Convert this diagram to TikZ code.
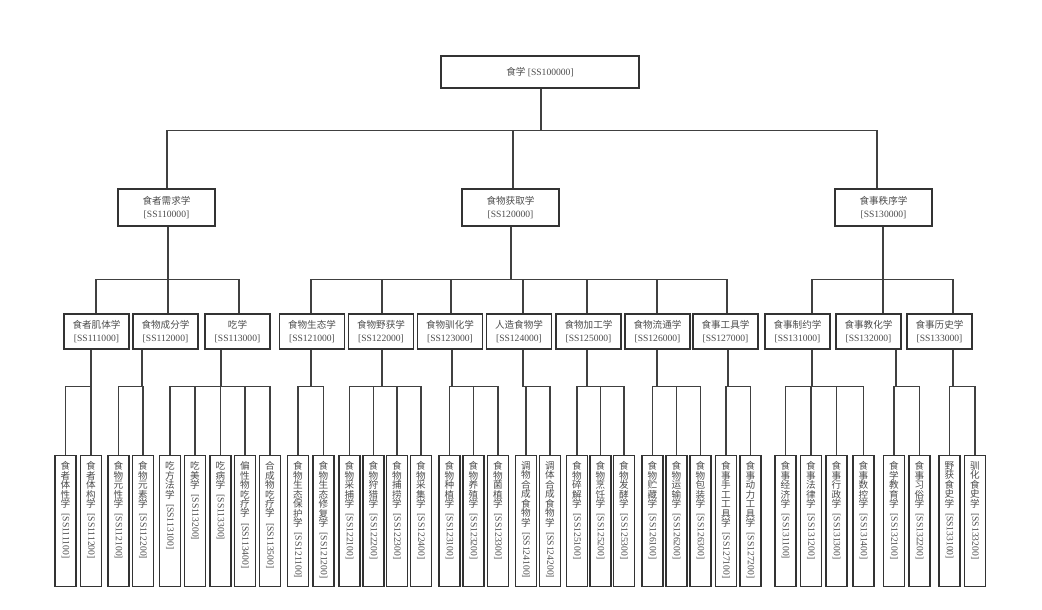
\documentclass[tikz,border=0pt]{standalone}
\usepackage{fontspec}
\setmainfont{Liberation Serif}
\newfontfamily\cjk{Noto Sans CJK SC}
\usetikzlibrary{calc}
\makeatletter
\newcommand\vlab[2]{\vbox to 89pt{\baselineskip=7.1pt\lineskiplimit=-10pt
  \expandafter\vlab@chars\expandafter{#1}%
  \nointerlineskip\vskip4pt
  \hbox to 7.2pt{\hss\rotatebox{-90}{[#2]}\hss}\vfil}}
\newcommand\vlab@chars[1]{\@tfor\vch:=#1\do{\hbox to 7.2pt{\hss\cjk\vch\hss}}}
\makeatother
\newcommand\hlab[2]{{\cjk #1}\\{}[#2]}
\begin{document}
\begin{tikzpicture}[x=0.75pt,y=-0.75pt,
  box/.style={draw=black!80,line width=0.8pt,text=black!70,align=center,inner sep=0pt,font=\fontsize{7.2}{10}\selectfont},
  rootbox/.style={box,minimum width=148.5pt,minimum height=24pt},
  fieldbox/.style={box,minimum width=72.75pt,minimum height=27.75pt},
  branchbox/.style={box,minimum width=48.75pt,minimum height=26.25pt},
  leafbox/.style={box,anchor=north,minimum width=15.75pt,inner ysep=4.5pt},
  link/.style={draw=black!75,line width=0.8pt}]
\useasboundingbox (0,0) rectangle (1042,610);
\node[rootbox] (r) at (540,72) {{\cjk 食学} [SS100000]};
\node[fieldbox] (a) at (166.5,207.5) {\hlab{食者需求学}{SS110000}};
\node[fieldbox] (b) at (510.5,207.5) {\hlab{食物获取学}{SS120000}};
\node[fieldbox] (c) at (883.5,207.5) {\hlab{食事秩序学}{SS130000}};
\node[branchbox] (a1) at (96.5,331.5) {\hlab{食者肌体学}{SS111000}};
\node[branchbox] (a2) at (165.5,331.5) {\hlab{食物成分学}{SS112000}};
\node[branchbox] (a3) at (237.5,331.5) {\hlab{吃学}{SS113000}};
\node[branchbox] (b1) at (312,331.5) {\hlab{食物生态学}{SS121000}};
\node[branchbox] (b2) at (381,331.5) {\hlab{食物野获学}{SS122000}};
\node[branchbox] (b3) at (450,331.5) {\hlab{食物驯化学}{SS123000}};
\node[branchbox] (b4) at (519,331.5) {\hlab{人造食物学}{SS124000}};
\node[branchbox] (b5) at (588.5,331.5) {\hlab{食物加工学}{SS125000}};
\node[branchbox] (b6) at (657.5,331.5) {\hlab{食物流通学}{SS126000}};
\node[branchbox] (b7) at (725.5,331.5) {\hlab{食事工具学}{SS127000}};
\node[branchbox] (c1) at (797.5,331.5) {\hlab{食事制约学}{SS131000}};
\node[branchbox] (c2) at (868.5,331.5) {\hlab{食事教化学}{SS132000}};
\node[branchbox] (c3) at (939.5,331.5) {\hlab{食事历史学}{SS133000}};
\foreach \n/\x/\t/\c in {
  a11/65.5/食者体性学/SS111100, a12/91/食者体构学/SS111200,
  a21/118.5/食物元性学/SS112100, a22/143/食物元素学/SS112200,
  a31/170/吃方法学/SS113100, a32/195/吃美学/SS113200, a33/220.5/吃病学/SS113300,
  a34/245/偏性物吃疗学/SS113400, a35/270/合成物吃疗学/SS113500,
  b11/298/食物生态保护学/SS121100, b12/323.5/食物生态修复学/SS121200,
  b21/349.5/食物采捕学/SS122100, b22/373.5/食物狩猎学/SS122200,
  b23/397/食物捕捞学/SS122300, b24/421/食物采集学/SS122400,
  b31/449.5/食物种植学/SS123100, b32/473.5/食物养殖学/SS123200, b33/498/食物菌植学/SS123300,
  b41/526/调物合成食物学/SS124100, b42/550/调体合成食物学/SS124200,
  b51/577/食物碎解学/SS125100, b52/600.5/食物烹饪学/SS125200, b53/624/食物发酵学/SS125300,
  b61/652.5/食物贮藏学/SS126100, b62/676.5/食物运输学/SS126200, b63/700.5/食物包装学/SS126300,
  b71/726/食事手工工具学/SS127100, b72/750.5/食事动力工具学/SS127200,
  c11/785.5/食事经济学/SS131100, c12/811/食事法律学/SS131200,
  c13/836.5/食事行政学/SS131300, c14/863.5/食事数控学/SS131400,
  c21/894/食学教育学/SS132100, c22/919.5/食事习俗学/SS132200,
  c31/949.5/野获食史学/SS133100, c32/975/驯化食史学/SS133200}
  \node[leafbox] (\n) at (\x,455) {\vlab{\t}{\c}};
\foreach \k/\i in {a/0.5,b/2.5,c/-6.5}
  \draw[link] ($(r.south)+(1,0)$) -- ++(0,42) -| ($(\k.north)+(\i,0)$);
\foreach \k/\i in {a1/-0.5,a2/2.5,a3/1.5}
  \draw[link] ($(a.south)+(1.5,0)$) -- ++(0,53) -| ($(\k.north)+(\i,0)$);
\foreach \k/\i in {b1/-1,b2/1,b3/1,b4/4,b5/-1.5,b6/-0.5,b7/1.5}
  \draw[link] ($(b.south)+(0.5,0)$) -- ++(0,53) -| ($(\k.north)+(\i,0)$);
\foreach \k/\i in {c1/14.5,c2/14.5,c3/13.5}
  \draw[link] ($(c.south)+(-0.5,0)$) -- ++(0,53) -| ($(\k.north)+(\i,0)$);
\foreach \p/\o/\kids in {a1/-5.5/{a11,a12}, a2/-23.5/{a21,a22}, a3/-16.5/{a31,a32,a33,a34,a35},
  b1/-1/{b11,b12}, b2/1/{b21,b22,b23,b24}, b3/2/{b31,b32,b33}, b4/4/{b41,b42},
  b5/-1.5/{b51,b52,b53}, b6/-0.5/{b61,b62,b63}, b7/2.5/{b71,b72},
  c1/14.5/{c11,c12,c13,c14}, c2/27.5/{c21,c22}, c3/13.5/{c31,c32}}
  \foreach \k in \kids
    \draw[link] ($(\p.south)+(\o,0)$) -- ++(0,37) -| (\k.north);
\end{tikzpicture}
\end{document}
